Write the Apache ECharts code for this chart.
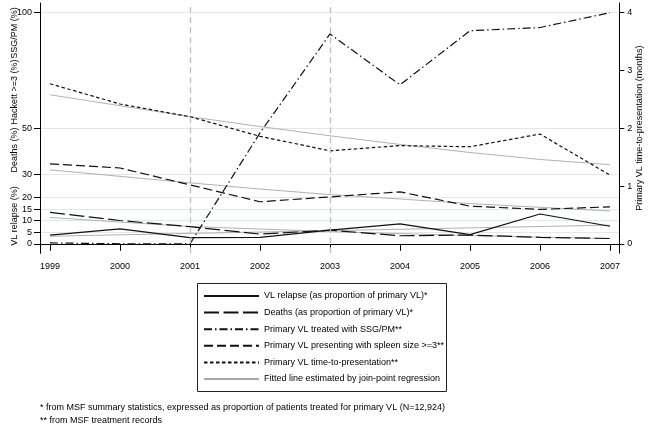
<!DOCTYPE html>
<html><head><meta charset="utf-8">
<script src="https://cdn.jsdelivr.net/npm/echarts@6/dist/echarts.min.js"></script>
<style>html,body{margin:0;padding:0;background:#fff}#c{width:649px;height:428px}</style>
</head><body><div id="c"></div>
<script>
// ---- data ----
const years = [1999, 2000, 2001, 2002, 2003, 2004, 2005, 2006, 2007];
const relapse = [3.8, 6.5, 2.7, 2.8, 5.9, 8.6, 4.0, 12.9, 7.6];
const deaths = [13.6, 10.1, 7.4, 4.2, 5.9, 3.5, 3.8, 2.8, 2.3];
const ssgpm = [0.4, 0, 0, 48, 90.8, 68.8, 92.2, 93.6, 100];
const spleen = [34.6, 32.8, 25.5, 18.2, 20.3, 22.5, 16.3, 14.9, 16.0];
const timeToPres = [2.77, 2.42, 2.20, 1.86, 1.61, 1.70, 1.68, 1.90, 1.19];
const fitRelapse = [3.3, 3.9, 4.5, 5.1, 5.7, 6.3, 6.9, 7.5, 8.1];
const fitDeaths = [11.4, 9.4, 7.5, 6.4, 5.3, 4.4, 3.6, 2.9, 2.3];
const fitSpleen = [32.0, 29.2, 26.4, 23.7, 21.3, 19.4, 17.4, 15.8, 14.2];
const fitTime = [2.58, 2.39, 2.20, 2.03, 1.87, 1.72, 1.58, 1.46, 1.37];
const leftTicks = [0, 5, 10, 15, 20, 30, 50, 100];
const rightTicks = [0, 1, 2, 3, 4];
const refYears = [2001, 2003];
const names = {
  relapse: 'VL relapse (as proportion of primary VL)*',
  deaths: 'Deaths (as proportion of primary VL)*',
  ssg: 'Primary VL treated with SSG/PM**',
  spleen: 'Primary VL presenting with spleen size >=3**',
  time: 'Primary VL time-to-presentation**',
  fit: 'Fitted line estimated by join-point regression'
};
const leftTitles = ['SSG/PM (%)', 'Hackett >=3 (%)', 'Deaths (%)', 'VL relapse (%)'];
const footnotes = ['* from MSF summary statistics, expressed as proportion of patients treated for primary VL (N=12,924)', '** from MSF treatment records'];

const FONT = 'Liberation Sans, Arial, Helvetica, sans-serif';
const pair = arr => years.map((y, i) => [y, arr[i]]);
const black = '#111';
const grayFit = '#a8a8a8';

function lineSeries(name, arr, dash, opts) {
  return Object.assign({
    type: 'line', name: name, data: pair(arr), symbol: 'none', yAxisIndex: 0,
    lineStyle: { color: black, width: 1.2, type: dash, cap: 'butt' },
    itemStyle: { color: black, opacity: 0 },
    animation: false, silent: true, z: 3
  }, opts || {});
}

const chart = echarts.init(document.getElementById('c'), null, { renderer: 'canvas' });
const fitStyle = { lineStyle: { color: grayFit, width: 0.9, type: 'solid' }, itemStyle: { color: grayFit, opacity: 0 }, z: 2 };

const series = [
  lineSeries(names.relapse, relapse, 'solid', {
    markLine: {
      silent: true, symbol: 'none', label: { show: false },
      lineStyle: { color: '#bdbdbd', type: [6, 4], width: 1.3 },
      data: refYears.map(y => ({ xAxis: y }))
    }
  }),
  lineSeries(names.deaths, deaths, [15, 4.5]),
  lineSeries(names.ssg, ssgpm, [8, 3, 1.5, 3]),
  lineSeries(names.spleen, spleen, [9, 4]),
  lineSeries(names.time, timeToPres, [3.5, 2.5], { yAxisIndex: 1 }),
  lineSeries(names.fit, fitRelapse, 'solid', fitStyle),
  lineSeries(names.fit, fitDeaths, 'solid', fitStyle),
  lineSeries(names.fit, fitSpleen, 'solid', fitStyle),
  lineSeries(names.fit, fitTime, 'solid', Object.assign({ yAxisIndex: 1 }, fitStyle))
];

const leftCenters = [33, 92, 150, 216];
const graphics = [
  { type: 'rect', shape: { x: 197.5, y: 283.5, width: 249, height: 108 }, style: { fill: 'none', stroke: '#222', lineWidth: 1 }, silent: true }
];
leftTitles.forEach((t, i) => graphics.push({
  type: 'text', x: 15, y: leftCenters[i], rotation: Math.PI / 2,
  style: { text: t, fontSize: 9, fontFamily: FONT, fill: '#000', align: 'center', verticalAlign: 'middle' }, silent: true
}));
footnotes.forEach((t, i) => graphics.push({
  type: 'text', x: 40, y: 408 + i * 13,
  style: { text: t, fontSize: 9, fontFamily: FONT, fill: '#000', align: 'left', verticalAlign: 'middle' }, silent: true
}));

chart.setOption({
  animation: false,
  backgroundColor: '#fff',
  textStyle: { fontFamily: FONT },
  grid: { left: 40, right: 29.7, top: 3, bottom: 174.7, containLabel: false, outerBoundsMode: 'none' },
  xAxis: {
    type: 'value', min: 1998.857, max: 2007.133,
    axisLine: { show: true, lineStyle: { color: '#000', width: 1 } },
    axisTick: { show: true, length: 7, customValues: years, lineStyle: { color: '#000' } },
    axisLabel: { customValues: years, fontSize: 9, color: '#000', margin: 9, formatter: v => String(v) },
    splitLine: { show: false }
  },
  yAxis: [
    {
      type: 'value', position: 'left', min: -4.1, max: 104.2,
      axisLine: { show: true, lineStyle: { color: '#000', width: 1 } },
      axisTick: { show: true, length: 6, customValues: leftTicks, lineStyle: { color: '#000' } },
      axisLabel: { customValues: leftTicks, fontSize: 9, color: '#000', margin: 8 },
      splitLine: { show: true, lineStyle: { color: '#e3e9e9', width: 1 } }
    },
    {
      type: 'value', position: 'right', min: -0.164, max: 4.168,
      name: 'Primary VL time-to-presentation (months)', nameLocation: 'middle', nameGap: 16,
      nameMoveOverlap: false,
      nameTextStyle: { fontSize: 9, color: '#000' },
      axisLine: { show: true, lineStyle: { color: '#000', width: 1 } },
      axisTick: { show: true, length: 5, customValues: rightTicks, lineStyle: { color: '#000' } },
      axisLabel: { customValues: rightTicks, fontSize: 9, color: '#000', margin: 8 },
      splitLine: { show: false }
    }
  ],
  legend: {
    orient: 'vertical', left: 197, top: 283,
    padding: [7, 6, 7, 6],
    itemWidth: 55, itemHeight: 12, itemGap: 4.6,
    data: [names.relapse, names.deaths, names.ssg, names.spleen, names.time, names.fit],
    textStyle: { fontSize: 9, color: '#000', lineHeight: 12 },
    itemStyle: { opacity: 0 },
    selectedMode: false
  },
  graphic: graphics,
  series: series
});
</script>
</body></html>
